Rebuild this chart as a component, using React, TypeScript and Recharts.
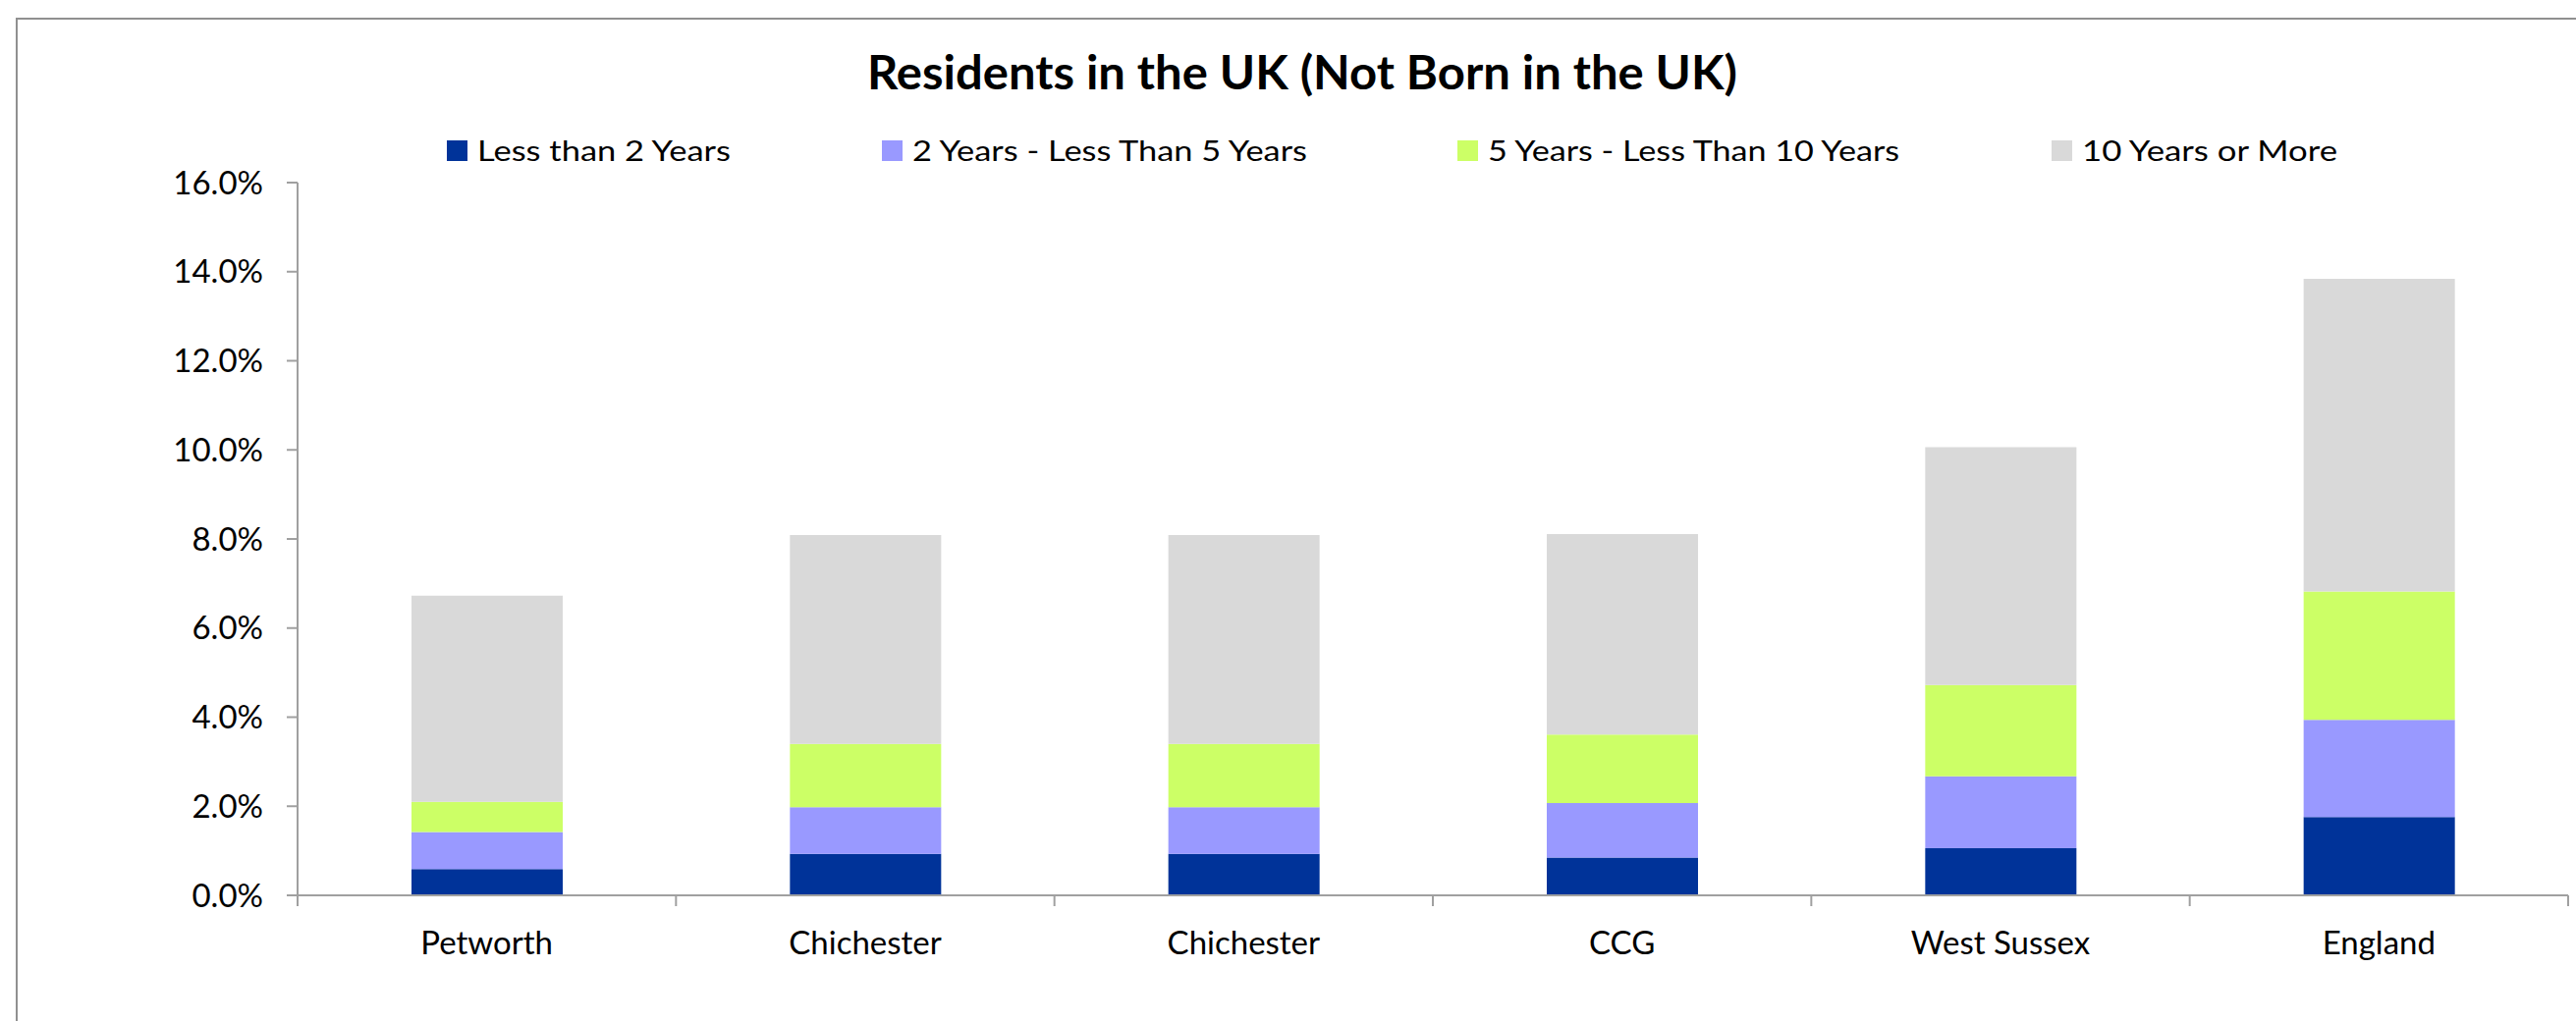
import { BarChart, Bar, XAxis, YAxis } from 'recharts';

// categories along the x axis (Chichester appears twice in the source)
const areas = ['Petworth', 'Chichester', 'Chichester', 'CCG', 'West Sussex', 'England'];

// % of residents, per length of stay
const lessThan2 = [0.59, 0.93, 0.93, 0.85, 1.06, 1.76];
const twoToFive = [0.83, 1.05, 1.05, 1.22, 1.61, 2.18];
const fiveToTen = [0.68, 1.42, 1.42, 1.54, 2.05, 2.88];
const tenPlus = [4.63, 4.69, 4.69, 4.5, 5.34, 7.02];

const seriesNames = [
  'Less than 2 Years',
  '2 Years - Less Than 5 Years',
  '5 Years - Less Than 10 Years',
  '10 Years or More',
];
const seriesKeys = ['lt2', 'y2to5', 'y5to10', 'y10plus'];
const seriesColors = ['#003399', '#9999FF', '#CCFF66', '#D9D9D9'];

const yTicks = [0, 2, 4, 6, 8, 10, 12, 14, 16];

const chartTitle = 'Residents in the UK (Not Born in the UK)';

const data = areas.map((name, i) => ({
  name,
  lt2: lessThan2[i],
  y2to5: twoToFive[i],
  y5to10: fiveToTen[i],
  y10plus: tenPlus[i],
}));

// layout
const W = 2623;
const H = 1040;
const MARGIN = { top: 186, right: 8, bottom: 68, left: 0 };
const Y_AXIS_W = 303;
const X_AXIS_H = 60;
const PLOT_W = W - MARGIN.left - MARGIN.right - Y_AXIS_W;
const BAND = PLOT_W / areas.length;
const AXIS_COLOR = '#a0a0a0';
const FONT = 'Lato, "Noto Sans", sans-serif';

// legend layout: left edge of each swatch and the width of its label
const legendX = [455, 898, 1484, 2089];
const legendTextW = [258, 402, 419, 260];

const AreaTick = (props: any) => {
  const { x, y, payload, index } = props;
  const left = x - BAND / 2;
  return (
    <g>
      <line x1={left} y1={y} x2={left} y2={y + 11} stroke={AXIS_COLOR} strokeWidth={2} />
      {index === areas.length - 1 && (
        <line x1={x + BAND / 2} y1={y} x2={x + BAND / 2} y2={y + 11} stroke={AXIS_COLOR} strokeWidth={2} />
      )}
      <text x={x} y={y + 60} textAnchor="middle" fontSize={33} fill="#000" fontFamily={FONT}>
        {payload.value}
      </text>
    </g>
  );
};

export default function App() {
  return (
    <div
      style={{
        position: 'absolute',
        left: 0,
        top: 0,
        width: W,
        height: H,
        background: '#fff',
        overflow: 'hidden',
        fontFamily: FONT,
      }}
    >
      {/* frame of the chart area, only top and left edges are visible */}
      <div
        style={{
          position: 'absolute',
          left: 16,
          top: 18,
          width: W,
          height: H,
          borderTop: '2px solid #909090',
          borderLeft: '2px solid #909090',
        }}
      />
      <BarChart width={W} height={H} data={data} margin={MARGIN}>
        <XAxis
          dataKey="name"
          height={X_AXIS_H}
          axisLine={{ stroke: AXIS_COLOR, strokeWidth: 2 }}
          tickLine={false}
          tickSize={0}
          tickMargin={0}
          interval={0}
          tick={<AreaTick />}
        />
        <YAxis
          width={Y_AXIS_W}
          domain={[0, 16]}
          ticks={yTicks}
          tickFormatter={(v: number) => `${v.toFixed(1)}%`}
          axisLine={{ stroke: AXIS_COLOR, strokeWidth: 2 }}
          tickLine={{ stroke: AXIS_COLOR, strokeWidth: 2 }}
          tickSize={11}
          tickMargin={24}
          tick={{ fontSize: 33, fill: '#000', fontFamily: FONT }}
        />
        {seriesKeys.map((key, i) => (
          <Bar
            key={key}
            dataKey={key}
            name={seriesNames[i]}
            stackId="stay"
            fill={seriesColors[i]}
            barSize={154}
            isAnimationActive={false}
          />
        ))}
      </BarChart>
      <svg
        width={W}
        height={200}
        style={{ position: 'absolute', left: 0, top: 0, pointerEvents: 'none' }}
      >
        <text
          x={883}
          y={91}
          fontSize={47}
          fontWeight={700}
          fontFamily={FONT}
          fill="#000"
          textLength={886}
          lengthAdjust="spacingAndGlyphs"
        >
          {chartTitle}
        </text>
        {seriesNames.map((name, i) => (
          <g key={name}>
            <rect x={legendX[i]} y={143} width={21} height={21} fill={seriesColors[i]} />
            <text
              x={legendX[i] + 31}
              y={164}
              fontSize={29}
              fontFamily={FONT}
              fill="#000"
              textLength={legendTextW[i]}
              lengthAdjust="spacingAndGlyphs"
            >
              {name}
            </text>
          </g>
        ))}
      </svg>
    </div>
  );
}
